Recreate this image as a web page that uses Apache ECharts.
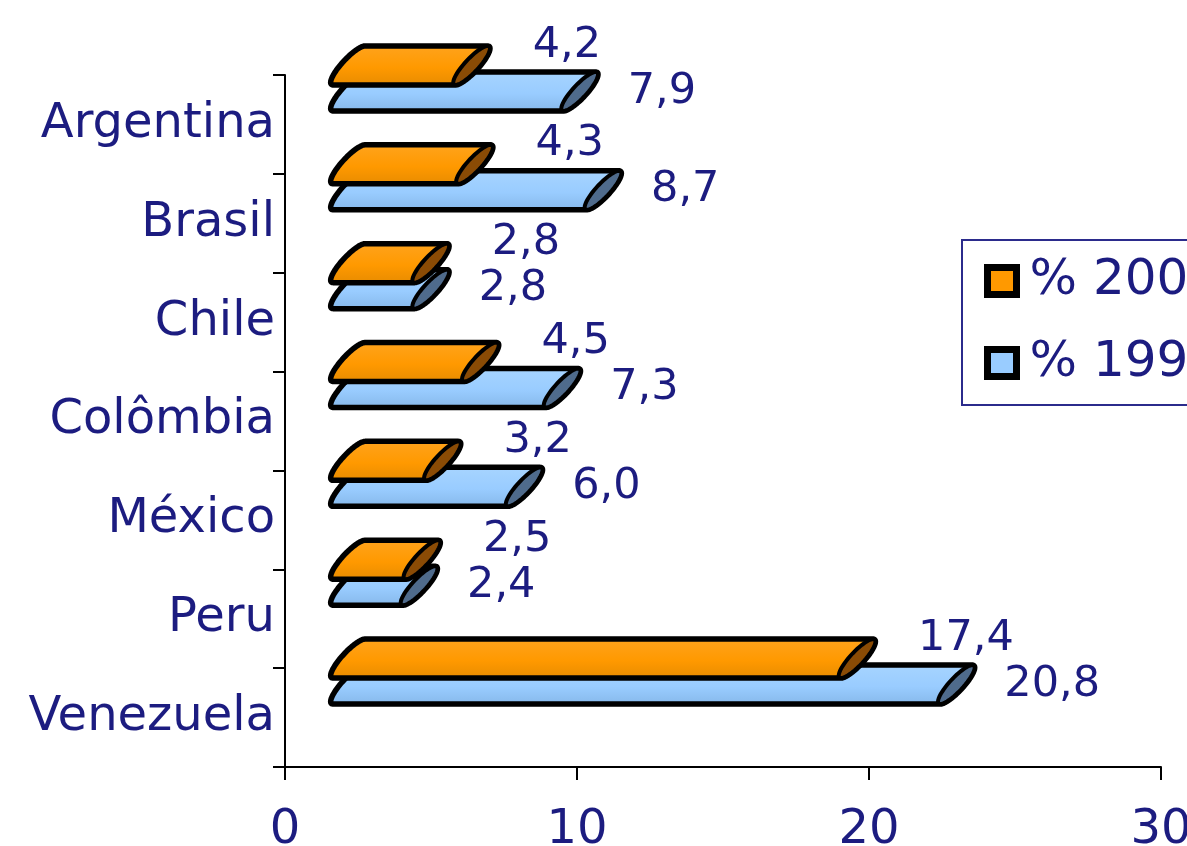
<!DOCTYPE html>
<html>
<head>
<meta charset="utf-8">
<script src="https://cdn.jsdelivr.net/npm/echarts@6/dist/echarts.min.js"></script>
<style>
  html, body { margin: 0; padding: 0; background: #ffffff; overflow: hidden; }
  #chart { width: 1187px; height: 846px; }
</style>
</head>
<body>
<div id="chart"></div>
<script>
// Country categories, top to bottom
const categories = ['Argentina', 'Brasil', 'Chile', 'Colômbia', 'México', 'Peru', 'Venezuela'];
// Series names as shown in the legend
const seriesNames = ['% 2000', '% 1990'];
// Percent values per country
const pct2000 = [4.2, 4.3, 2.8, 4.5, 3.2, 2.5, 17.4];
const pct1990 = [7.9, 8.7, 2.8, 7.3, 6.0, 2.4, 20.8];
// Value axis ticks
const xMin = 0, xMax = 30, xStep = 10;

const NAVY = '#1c1c80';
const FONT = 'DejaVu Sans, Verdana, sans-serif';

// Cylinder drawing parameters (pixels)
const DEPTH_X = 64;   // perspective shift of the bars to the right
const H = 39;         // cylinder height
const SHEAR = 32;     // horizontal shear of the end caps
const RX = 9;         // horizontal half-width of the end caps
const LW = 5.5;       // outline width

function capPoint(cx, cy, t) {
  return [cx + RX * Math.cos(t) + (SHEAR / 2) * Math.sin(t), cy - (H / 2) * Math.sin(t)];
}
function capArc(cx, cy, t0, t1, n) {
  const pts = [];
  for (let i = 0; i <= n; i++) pts.push(capPoint(cx, cy, t0 + (t1 - t0) * i / n));
  return pts;
}
function fmt(v) { return v.toFixed(1).replace('.', ','); }

function makeRenderer(look) {
  return function (params, api) {
    const v = api.value(0);
    const ci = api.value(1);
    const p0 = api.coord([0, ci]);
    const p1 = api.coord([v, ci]);
    const cy = p0[1] + look.dy;
    const xL = p0[0] + DEPTH_X;
    const xR = p1[0] + DEPTH_X;
    const body = capArc(xL, cy, Math.PI / 2, 3 * Math.PI / 2, 24)
      .concat(capArc(xR, cy, -Math.PI / 2, Math.PI / 2, 24));
    const cap = capArc(xR, cy, 0, 2 * Math.PI, 48);
    return {
      type: 'group',
      children: [
        {
          type: 'polygon',
          shape: { points: body },
          style: {
            fill: new echarts.graphic.LinearGradient(0, 0, 0, 1, look.grad),
            stroke: '#000', lineWidth: LW, lineJoin: 'round'
          }
        },
        {
          type: 'polygon',
          shape: { points: cap },
          style: { fill: look.cap, stroke: '#000', lineWidth: LW - 1.5 }
        },
        {
          type: 'text',
          style: {
            x: p1[0] + look.lx, y: p0[1] + look.ly,
            text: fmt(v),
            fill: NAVY, fontSize: 43, fontFamily: FONT,
            align: 'left', verticalAlign: 'middle',
            textAlign: 'left', textVerticalAlign: 'middle'
          }
        }
      ]
    };
  };
}

const look2000 = {
  dy: -59, lx: 125, ly: -79, cap: '#8a4b05',
  grad: [{ offset: 0, color: '#ffa41f' }, { offset: 0.55, color: '#ff9900' }, { offset: 1, color: '#e58a00' }]
};
const look1990 = {
  dy: -33, lx: 112, ly: -33, cap: '#4f6b8c',
  grad: [{ offset: 0, color: '#a8d5ff' }, { offset: 0.55, color: '#99ccff' }, { offset: 1, color: '#84b6e8' }]
};

const chart = echarts.init(document.getElementById('chart'), null, { renderer: 'canvas' });
chart.setOption({
  animation: false,
  backgroundColor: '#ffffff',
  grid: { left: 285, right: 26, top: 75, bottom: 79, containLabel: false, outerBoundsMode: 'none' },
  legend: {
    orient: 'vertical',
    left: 962, top: 240,
    padding: [16, 80, 17, 22],
    itemGap: 32,
    itemWidth: 29, itemHeight: 27,
    borderColor: '#2b2b8c', borderWidth: 2,
    selectedMode: false,
    textStyle: { color: NAVY, fontSize: 50, fontFamily: FONT, padding: [0, 0, 0, 8] },
    data: [
      { name: seriesNames[0], icon: 'rect', itemStyle: { color: '#ff9900', borderColor: '#000', borderWidth: 7 } },
      { name: seriesNames[1], icon: 'rect', itemStyle: { color: '#99ccff', borderColor: '#000', borderWidth: 7 } }
    ]
  },
  xAxis: {
    type: 'value', min: xMin, max: xMax, interval: xStep,
    axisLine: { show: true, lineStyle: { color: '#000', width: 2 } },
    axisTick: { show: true, inside: false, length: 13, lineStyle: { color: '#000', width: 2 } },
    splitLine: { show: false },
    axisLabel: { color: NAVY, fontSize: 48, fontFamily: FONT, margin: 40 }
  },
  yAxis: {
    type: 'category', data: categories, inverse: true, boundaryGap: true,
    axisLine: { show: true, lineStyle: { color: '#000', width: 2 } },
    axisTick: { show: true, inside: false, length: 12, alignWithLabel: false, lineStyle: { color: '#000', width: 2 } },
    splitLine: { show: false },
    axisLabel: { color: NAVY, fontSize: 48, fontFamily: FONT, margin: 10 }
  },
  series: [
    {
      name: seriesNames[1], type: 'custom', clip: false, z: 2,
      renderItem: makeRenderer(look1990),
      encode: { x: 0, y: 1 },
      itemStyle: { color: '#99ccff' },
      data: pct1990.map((v, i) => [v, i])
    },
    {
      name: seriesNames[0], type: 'custom', clip: false, z: 3,
      renderItem: makeRenderer(look2000),
      encode: { x: 0, y: 1 },
      itemStyle: { color: '#ff9900' },
      data: pct2000.map((v, i) => [v, i])
    }
  ]
});
</script>
</body>
</html>
